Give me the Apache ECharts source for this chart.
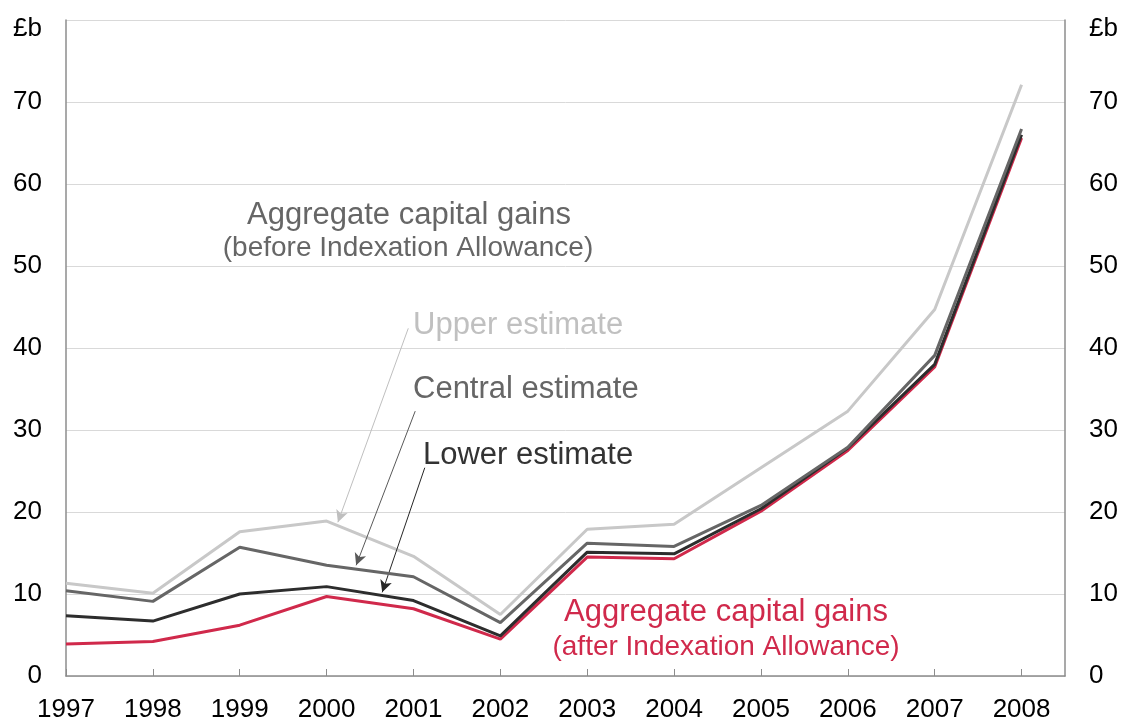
<!DOCTYPE html>
<html>
<head>
<meta charset="utf-8">
<script src="https://cdn.jsdelivr.net/npm/echarts@6/dist/echarts.min.js"></script>
<style>
html,body{margin:0;padding:0;background:#fff;}
#chart{width:1122px;height:723px;}
</style>
</head>
<body>
<div id="chart"></div>
<script>
const years = [1997,1998,1999,2000,2001,2002,2003,2004,2005,2006,2007,2008];
const upperEstimate   = [11.3,10.1,17.6,18.9,14.6,7.5,17.9,18.5,25.4,32.3,44.7,72.1];
const centralEstimate = [10.4,9.1,15.7,13.5,12.1,6.5,16.2,15.8,20.8,27.9,39.1,66.7];
const lowerEstimate   = [7.35,6.7,10.0,10.9,9.2,4.9,15.1,14.9,20.4,27.8,38.0,66.0];
const afterIndexation = [3.9,4.2,6.2,9.7,8.2,4.5,14.5,14.3,20.1,27.5,37.7,65.6];
const yTicks = [0,10,20,30,40,50,60,70,80];
const unitLabel = '£b';

const FONT = '"Liberation Sans", Arial, sans-serif';
const pairs = arr => years.map((y,i)=>[y, arr[i]]);

const chart = echarts.init(document.getElementById('chart'), null, {renderer:'canvas'});

function yAxisDef(pos){
  return {
    type:'value', position:pos, min:0, max:80, interval:10,
    axisLine:{show:true, lineStyle:{color:'#8c8c8c', width:1.5}},
    axisTick:{show:false},
    splitLine:{show: pos==='left', lineStyle:{color:'#d9d9d9', width:1}},
    axisLabel:{
      color:'#000', fontSize:26, fontFamily:FONT, margin:24,
      formatter: v => v===80 ? '{u|'+unitLabel+'}' : (yTicks.indexOf(v)>=0 ? String(v) : ''),
      rich:{u:{fontSize:26, fontFamily:FONT, color:'#000', padding:[18,0,0,0]}}
    }
  };
}

function lineSeries(name, data, color, z){
  return {
    name, type:'line', data: pairs(data), symbol:'none', z,
    lineStyle:{color, width:3}, itemStyle:{color},
    animation:false
  };
}

const arrows = [
  {from:[2000.94,42.4], to:[2000.13,18.75], color:'#bfbfbf'},
  {from:[2001.02,32.3], to:[2000.34,13.5], color:'#595959'},
  {from:[2001.13,25.4], to:[2000.64,10.2], color:'#262626'}
];

const option = {
  backgroundColor:'#fff',
  animation:false,
  grid:{left:66, right:57, top:20, bottom:46, containLabel:false},
  xAxis:{
    type:'value', min:1997, max:2008.5, interval:1,
    axisLine:{show:true, lineStyle:{color:'#8c8c8c', width:1.5}},
    axisTick:{show:true, inside:true, length:7, lineStyle:{color:'#8c8c8c', width:1}},
    splitLine:{show:false},
    axisLabel:{
      color:'#000', fontSize:26, fontFamily:FONT, margin:21,
      showMaxLabel:false,
      formatter: v => years.indexOf(v)>=0 ? String(v) : ''
    }
  },
  yAxis:[yAxisDef('left'), yAxisDef('right')],
  series:[
    lineSeries('Upper estimate', upperEstimate, '#c8c8c8', 2),
    lineSeries('Aggregate capital gains (after Indexation Allowance)', afterIndexation, '#d0294b', 3),
    lineSeries('Lower estimate', lowerEstimate, '#2d2d2d', 4),
    Object.assign(lineSeries('Central estimate', centralEstimate, '#666666', 5), {
      markLine:{
        silent:true, animation:false, symbol:['none','arrow'], symbolSize:[9,12],
        label:{show:false},
        data: arrows.map(a => [
          {coord:a.from, lineStyle:{color:a.color, width:1, type:'solid'}},
          {coord:a.to}
        ])
      }
    })
  ],
  graphic:[
    {type:'text', x:409, y:215, style:{text:'Aggregate capital gains', fill:'#666666', font:'31px '+FONT, textAlign:'center', textVerticalAlign:'middle'}},
    {type:'text', x:408, y:248, style:{text:'(before Indexation Allowance)', fill:'#666666', font:'28px '+FONT, textAlign:'center', textVerticalAlign:'middle'}},
    {type:'text', x:413, y:325, style:{text:'Upper estimate', fill:'#c0c0c0', font:'31px '+FONT, textAlign:'left', textVerticalAlign:'middle'}},
    {type:'text', x:413, y:389, style:{text:'Central estimate', fill:'#666666', font:'31px '+FONT, textAlign:'left', textVerticalAlign:'middle'}},
    {type:'text', x:423, y:455, style:{text:'Lower estimate', fill:'#333333', font:'31px '+FONT, textAlign:'left', textVerticalAlign:'middle'}},
    {type:'text', x:726, y:612, style:{text:'Aggregate capital gains', fill:'#d0294b', font:'31px '+FONT, textAlign:'center', textVerticalAlign:'middle'}},
    {type:'text', x:726, y:647, style:{text:'(after Indexation Allowance)', fill:'#d0294b', font:'28px '+FONT, textAlign:'center', textVerticalAlign:'middle'}}
  ]
};
chart.setOption(option);
</script>
</body>
</html>
